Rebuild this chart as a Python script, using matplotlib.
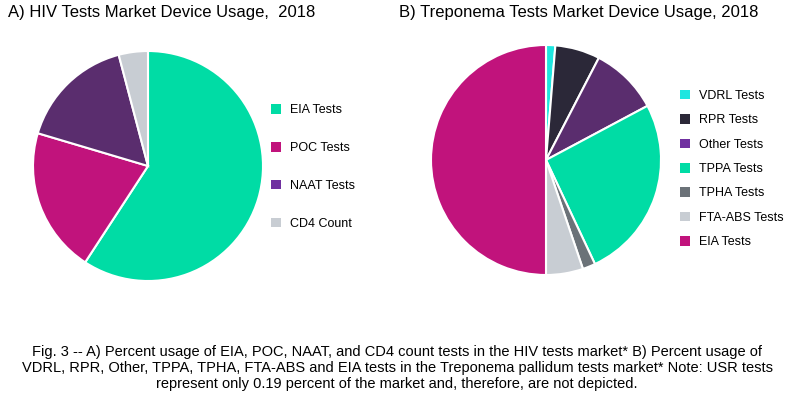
import matplotlib
matplotlib.use("Agg")
import matplotlib.pyplot as plt
from matplotlib.patches import Patch

plt.rcParams['font.family'] = ['Liberation Sans', 'DejaVu Sans']

# HIV tests market, 2018 (percent)
hiv_labels = ['EIA Tests', 'POC Tests', 'NAAT Tests', 'CD4 Count']
hiv_values = [59.2, 20.4, 16.3, 4.1]
hiv_colors = ['#00DCA5', '#C1137C', '#5A2D6E', '#C8CDD3']
hiv_legend_colors = ['#00DCA5', '#C1137C', '#7030A0', '#C8CDD3']

# Treponema tests market, 2018 (percent)
trep_labels = ['VDRL Tests', 'RPR Tests', 'Other Tests', 'TPPA Tests',
               'TPHA Tests', 'FTA-ABS Tests', 'EIA Tests']
trep_values = [1.3, 6.3, 9.6, 25.8, 1.8, 5.2, 50.0]
trep_colors = ['#1EE6E0', '#2B2838', '#5A2D6E', '#00DCA5',
               '#6B7278', '#C8CDD3', '#C1137C']
trep_legend_colors = ['#1EE6E0', '#2B2838', '#7030A0', '#00DCA5',
                      '#6B7278', '#C8CDD3', '#C1137C']

caption = ("Fig. 3 -- A) Percent usage of EIA, POC, NAAT, and CD4 count tests in the HIV tests market* B) Percent usage of\n"
           "VDRL, RPR, Other, TPPA, TPHA, FTA-ABS and EIA tests in the Treponema pallidum tests market* Note: USR tests\n"
           "represent only 0.19 percent of the market and, therefore, are not depicted.")

W, H = 794, 397
fig = plt.figure(figsize=(W / 100, H / 100), dpi=100)


def pie_axes(cx, cy, r):
    return fig.add_axes([(cx - r) / W, (H - cy - r) / H, 2 * r / W, 2 * r / H])


def finish(ax):
    # pie() resets limits, so fix them afterwards
    ax.set_xlim(-1, 1)
    ax.set_ylim(-1, 1)
    ax.set_aspect('equal')
    ax.axis('off')


ax1 = pie_axes(148, 166, 115)
ax1.pie(hiv_values, colors=hiv_colors, startangle=90, counterclock=False,
        radius=1, wedgeprops=dict(edgecolor='white', linewidth=1.5))
finish(ax1)

ax2 = pie_axes(546, 160, 115)
ax2.pie(trep_values, colors=trep_colors, startangle=90, counterclock=False,
        radius=1, wedgeprops=dict(edgecolor='white', linewidth=1.5))
finish(ax2)

fig.text(8 / W, 1 - 12 / H, 'A) HIV Tests Market Device Usage,  2018',
         fontsize=12, ha='left', va='center')
fig.text(399 / W, 1 - 12 / H, 'B) Treponema Tests Market Device Usage, 2018',
         fontsize=12, ha='left', va='center')

h1 = [Patch(facecolor=c, edgecolor='none') for c in hiv_legend_colors]
fig.legend(h1, hiv_labels, loc='center left', bbox_to_anchor=(260 / W, 1 - 167 / H),
           frameon=False, fontsize=9, labelspacing=2.05, handlelength=0.8,
           handleheight=0.8, handletextpad=0.7)

h2 = [Patch(facecolor=c, edgecolor='none') for c in trep_legend_colors]
fig.legend(h2, trep_labels, loc='center left', bbox_to_anchor=(669 / W, 1 - 169 / H),
           frameon=False, fontsize=9, labelspacing=0.98, handlelength=0.8,
           handleheight=0.8, handletextpad=0.7)

fig.text(0.5, 1 - 368 / H, caption, fontsize=10.5, ha='center', va='center',
         linespacing=1.2)

fig.savefig('out.png', dpi=100)
